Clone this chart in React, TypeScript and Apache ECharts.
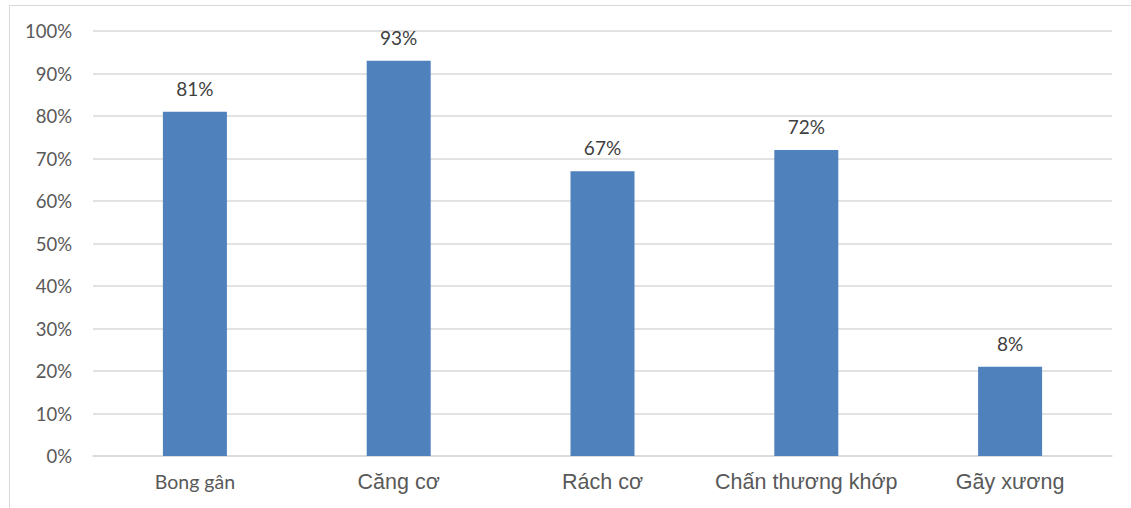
import React, { useEffect, useRef } from "react";
import * as echarts from "echarts";

const categories = ["Bong gân", "Căng cơ", "Rách cơ", "Chấn thương khớp", "Gãy xương"];
const barValues = [81, 93, 67, 72, 21];
const valueLabels = ["81%", "93%", "67%", "72%", "8%"];
const yTicks = { min: 0, max: 100, interval: 10 };

export default function App() {
  const ref = useRef<HTMLDivElement>(null);
  useEffect(() => {
    if (!ref.current) return;
    const chart = echarts.init(ref.current, undefined, { renderer: "svg" });
    chart.setOption({
      animation: false,
      backgroundColor: "#ffffff",
      graphic: [
        {
          type: "rect",
          shape: { x: 9.5, y: 5.5, width: 1300, height: 700 },
          style: { fill: "none", stroke: "#d9d9d9", lineWidth: 1 },
          silent: true,
        },
      ],
      grid: { left: 93, right: 19, top: 31, bottom: 52, containLabel: false },
      xAxis: {
        type: "category",
        data: categories.map((c, i) =>
          i === 0
            ? { value: c, textStyle: { fontFamily: "Lato", fontSize: 19.5, color: "#595959" } }
            : { value: c, textStyle: { fontFamily: "Liberation Sans", fontSize: 21.5, color: "#595959" } }
        ),
        axisLine: { show: true, lineStyle: { color: "#d9d9d9", width: 1.5 } },
        axisTick: { show: false },
        axisLabel: { margin: 15, color: "#595959" },
      },
      yAxis: {
        type: "value",
        min: yTicks.min,
        max: yTicks.max,
        interval: yTicks.interval,
        axisLine: { show: false },
        axisTick: { show: false },
        splitLine: { lineStyle: { color: "#d9d9d9", width: 1.5 } },
        axisLabel: {
          formatter: "{value}%",
          fontFamily: "Lato",
          fontSize: 18.5,
          color: "#595959",
          margin: 21,
        },
      },
      series: [
        {
          type: "bar",
          data: barValues,
          barWidth: 64,
          itemStyle: { color: "#4f81bd" },
          label: {
            show: true,
            position: "top",
            distance: 14,
            fontFamily: "Lato",
            fontSize: 19,
            color: "#404040",
            formatter: (p: any) => valueLabels[p.dataIndex],
          },
        },
      ],
    });
    return () => chart.dispose();
  }, []);
  return (
    <div
      ref={ref}
      style={{ position: "absolute", left: 0, top: 0, width: 1131, height: 508 }}
    />
  );
}
